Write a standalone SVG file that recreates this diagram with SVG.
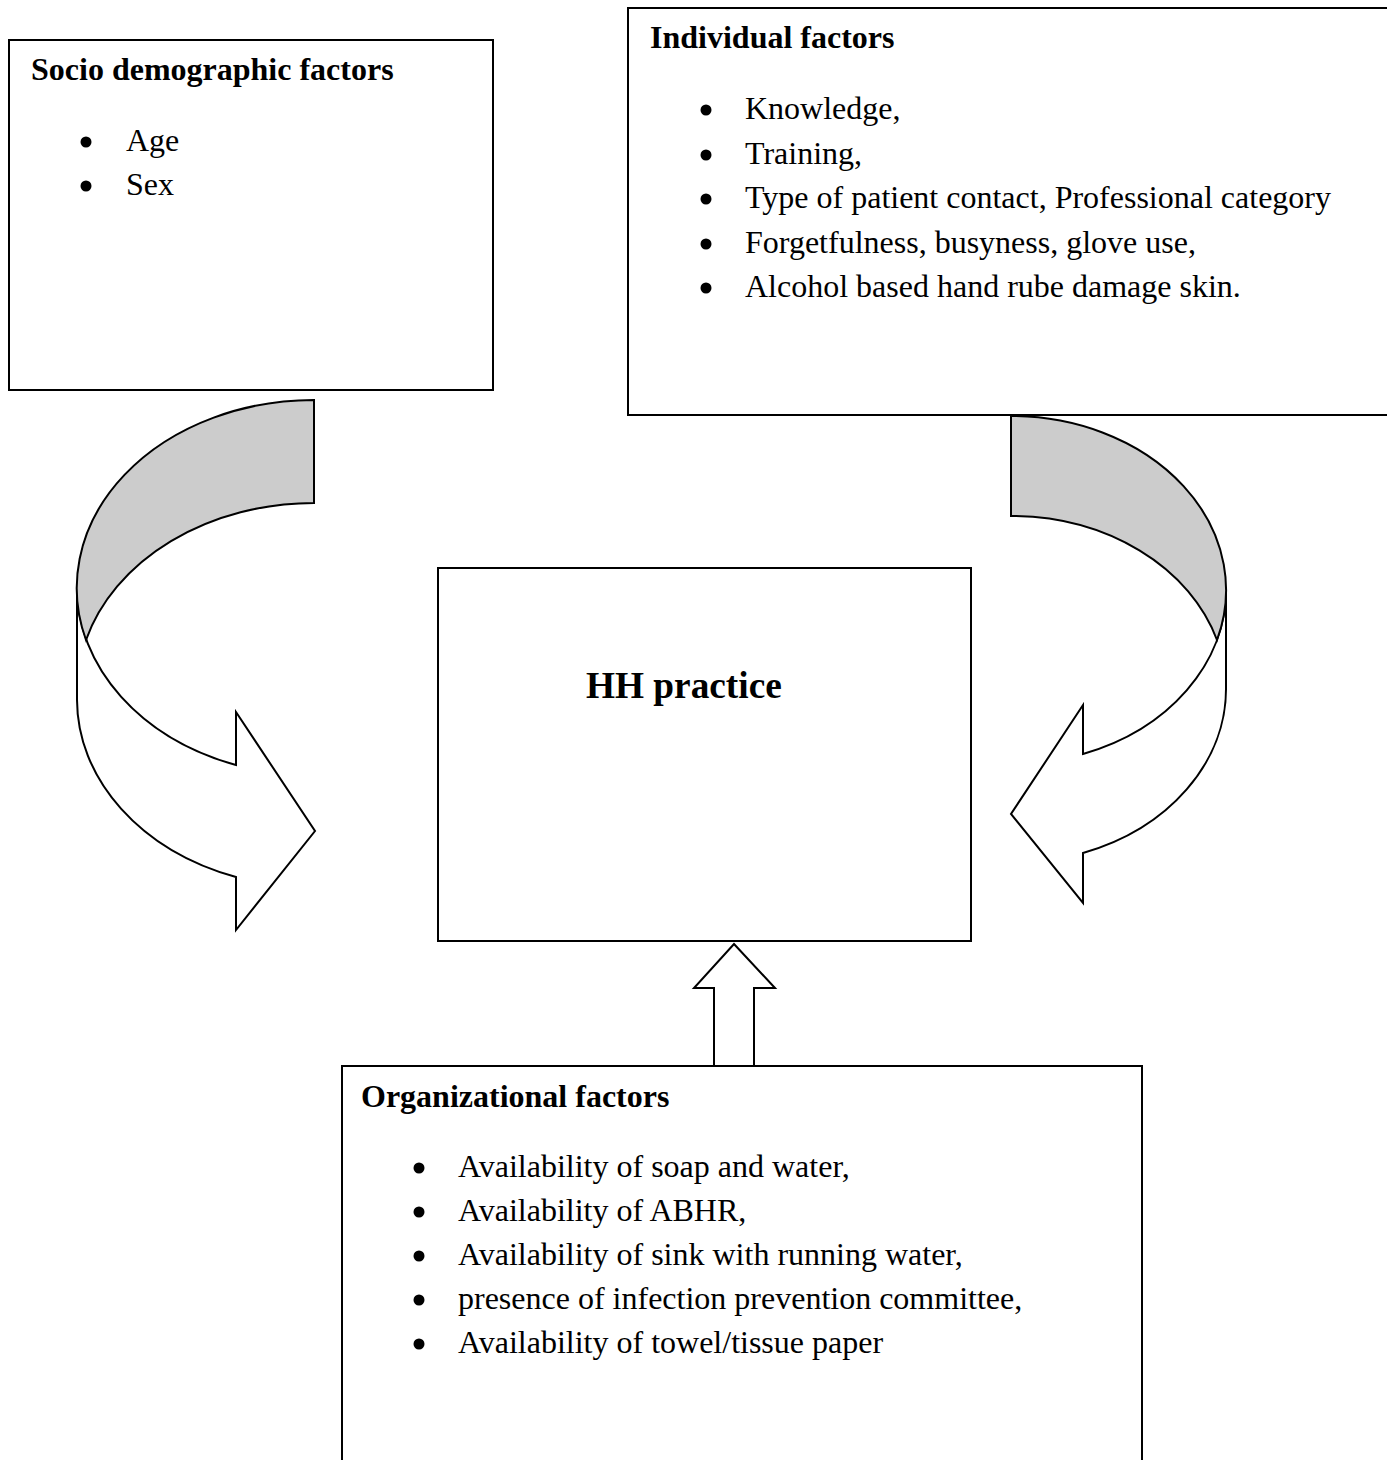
<svg xmlns="http://www.w3.org/2000/svg" width="1387" height="1460" viewBox="0 0 1387 1460">
<style>
.box{fill:#fff;stroke:#000;stroke-width:2}
.arr{fill:#fff;stroke:#000;stroke-width:2;stroke-linejoin:miter}
.back{fill:#cccccc;stroke:#000;stroke-width:2}
.dot{fill:#000}
text{font-family:"Liberation Serif","Times New Roman",serif;fill:#000}
.h{font-size:32px;font-weight:bold}
.t{font-size:32px}
.big{font-size:37.3px;font-weight:bold}
</style>
<rect width="1387" height="1460" fill="#fff"/>
<g id="connectors">
  <g id="arrow-left">
    <path class="arr" d="M77,588 L77,700 A237,188 0 0 0 236,877 L236,930 L315,831 L236,712 L236,765 A237,188 0 0 1 77,588 Z"/>
    <path class="back" d="M314,400 A237,188 0 0 0 86,640 A237,188 0 0 1 314,503 Z"/>
  </g>
  <g id="arrow-right">
    <path class="arr" d="M1226,590 L1226,689 A215,174 0 0 1 1083,853 L1083,903 L1011,814 L1083,705 L1083,754 A215,174 0 0 0 1226,590 Z"/>
    <path class="back" d="M1011,416 A215,174 0 0 1 1217,640 A215,174 0 0 0 1011,516 Z"/>
  </g>
  <path id="arrow-up" class="arr" d="M734,944 L775,988 L754,988 L754,1066 L714,1066 L714,988 L694,988 Z"/>
</g>
<g id="socio">
  <rect class="box" x="9" y="40" width="484" height="350"/>
  <text class="h" x="31" y="80">Socio demographic factors</text>
  <circle class="dot" cx="86" cy="142" r="5.5"/>
  <text class="t" x="126" y="151">Age</text>
  <circle class="dot" cx="86" cy="186" r="5.5"/>
  <text class="t" x="126" y="195">Sex</text>
</g>
<g id="individual">
  <rect class="box" x="628" y="8" width="780" height="407"/>
  <text class="h" x="650" y="48">Individual factors</text>
  <circle class="dot" cx="706" cy="110" r="5.5"/>
  <text class="t" x="745" y="119">Knowledge,</text>
  <circle class="dot" cx="706" cy="155" r="5.5"/>
  <text class="t" x="745" y="164">Training,</text>
  <circle class="dot" cx="706" cy="199" r="5.5"/>
  <text class="t" x="745" y="208">Type of patient contact, Professional category</text>
  <circle class="dot" cx="706" cy="244" r="5.5"/>
  <text class="t" x="745" y="253">Forgetfulness, busyness, glove use,</text>
  <circle class="dot" cx="706" cy="288" r="5.5"/>
  <text class="t" x="745" y="297">Alcohol based hand rube damage skin.</text>
</g>
<g id="hh">
  <rect class="box" x="438" y="568" width="533" height="373"/>
  <text class="big" x="586" y="698">HH practice</text>
</g>
<g id="organizational">
  <rect class="box" x="342" y="1066" width="800" height="420"/>
  <text class="h" x="361" y="1107">Organizational factors</text>
  <circle class="dot" cx="419" cy="1168" r="5.5"/>
  <text class="t" x="458" y="1177">Availability of soap and water,</text>
  <circle class="dot" cx="419" cy="1212" r="5.5"/>
  <text class="t" x="458" y="1221">Availability of ABHR,</text>
  <circle class="dot" cx="419" cy="1256" r="5.5"/>
  <text class="t" x="458" y="1265">Availability of sink with running water,</text>
  <circle class="dot" cx="419" cy="1300" r="5.5"/>
  <text class="t" x="458" y="1309">presence of infection prevention committee,</text>
  <circle class="dot" cx="419" cy="1344" r="5.5"/>
  <text class="t" x="458" y="1353">Availability of towel/tissue paper</text>
</g>
</svg>
